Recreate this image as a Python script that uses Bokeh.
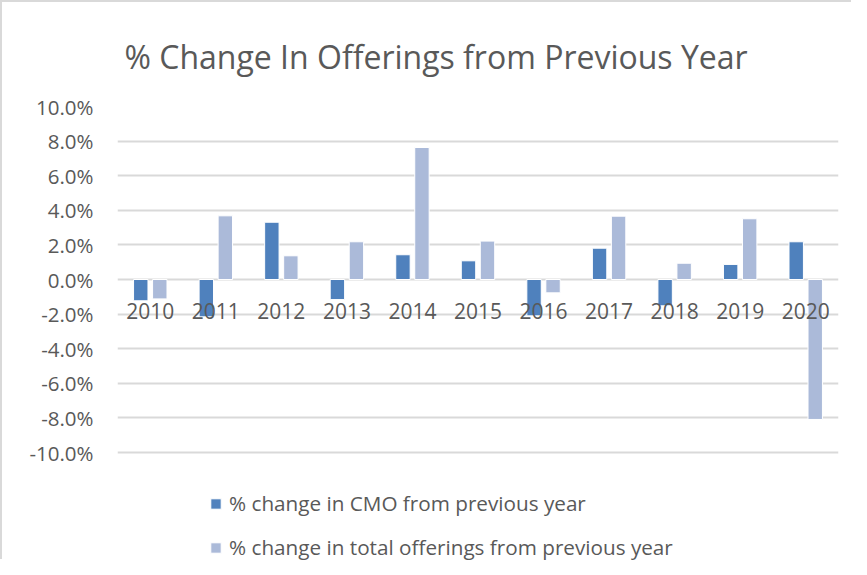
from bokeh.plotting import figure
from bokeh.models import (FactorRange, ColumnDataSource, FixedTicker, PrintfTickFormatter,
                          Legend, LegendItem, Range1d)
from bokeh.transform import dodge
from bokeh.core.properties import value
from bokeh.embed import file_html
from bokeh.resources import INLINE

years = ["2010", "2011", "2012", "2013", "2014", "2015", "2016", "2017", "2018", "2019", "2020"]
cmo_change = [-1.23, -2.16, 3.31, -1.16, 1.43, 1.08, -2.10, 1.81, -1.52, 0.87, 2.18]
total_change = [-1.12, 3.68, 1.37, 2.18, 7.63, 2.22, -0.77, 3.66, 0.94, 3.51, -8.09]
y_ticks = [-10, -8, -6, -4, -2, 0, 2, 4, 6, 8, 10]
zeros = [0] * len(years)
# lower range end leaves room under the -10% gridline for the legend
y_bottom = -16.3
y_top = 10

FONT = "Open Sans"
TXT = "#595959"
C1 = "#4f81bd"
C2 = "#abbad9"

src = ColumnDataSource(dict(year=years, cmo=cmo_change, total=total_change, zero=zeros))

p = figure(width=851, height=559, x_range=FactorRange(*years, range_padding=0),
           y_range=Range1d(y_bottom, y_top), output_backend="svg", toolbar_location=None,
           min_border_left=115, min_border_right=15, min_border_top=104, min_border_bottom=0)
p.styles = {"border-left": "2px solid #d9d9d9", "border-top": "2px solid #d9d9d9"}

r1 = p.vbar(x=dodge("year", -0.145, range=p.x_range), top="cmo", bottom=0, width=0.22,
            source=src, fill_color=C1, line_color="white", line_width=1)
r2 = p.vbar(x=dodge("year", 0.145, range=p.x_range), top="total", bottom=0, width=0.22,
            source=src, fill_color=C2, line_color="white", line_width=1)

# category labels next to zero line
p.text(x="year", y="zero", text="year", source=src, text_align="center",
       text_baseline="middle", y_offset=31, text_font=value(FONT),
       text_font_size="21px", text_color=TXT)

p.xaxis.visible = False
p.xgrid.grid_line_color = None
p.ygrid.grid_line_color = "#d9d9d9"
p.ygrid.grid_line_width = 2
p.outline_line_color = None

p.yaxis.ticker = FixedTicker(ticks=y_ticks)
p.yaxis.formatter = PrintfTickFormatter(format="%.1f%%")
p.yaxis.axis_line_color = None
p.yaxis.major_tick_line_color = None
p.yaxis.minor_tick_line_color = None
p.yaxis.major_tick_out = 0
p.yaxis.major_label_standoff = 24
p.yaxis.major_label_text_font = FONT
p.yaxis.major_label_text_font_size = "20.5px"
p.yaxis.major_label_text_color = TXT

p.title.text = "% Change In Offerings from Previous Year"
p.title.text_font = FONT
p.title.text_font_style = "normal"
p.title.text_font_size = "32px"
p.title.text_color = TXT
p.title.align = "left"
p.title.offset = 7
p.title.standoff = 58

legend = Legend(items=[LegendItem(label="% change in CMO from previous year", renderers=[r1]),
                       LegendItem(label="% change in total offerings from previous year", renderers=[r2])],
                location=(92, 0), orientation="vertical")
legend.border_line_color = None
legend.background_fill_alpha = 0
legend.padding = 0
legend.margin = 0
legend.spacing = 16
legend.glyph_width = 13
legend.glyph_height = 13
legend.label_height = 20
legend.label_standoff = 7
legend.label_text_font = FONT
legend.label_text_font_size = "20.7px"
legend.label_text_color = TXT
p.add_layout(legend, "center")

open("out.html", "w").write(file_html(p, INLINE))
